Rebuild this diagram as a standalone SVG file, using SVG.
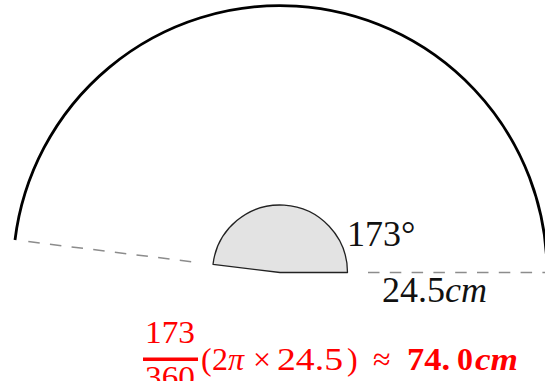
<svg xmlns="http://www.w3.org/2000/svg" width="545" height="381" viewBox="0 0 545 381">
<style>
.dash{fill:none;stroke:#8c8c8c;stroke-width:1.5;stroke-dasharray:11.5 10.3}
.lbl{font-family:"Liberation Serif","DejaVu Serif",serif;font-size:36px;fill:#111}
.red{font-family:"Liberation Serif","DejaVu Serif",serif;font-size:32px;fill:#ff0000}
</style>
<rect width="545" height="381" fill="#ffffff"/>
<g id="connectors">
<path class="dash" d="M28.3,241.6 L194,262"/>
<path class="dash" d="M368,272.5 L545,272.5"/>
</g>
<g id="big-arc">
<path d="M15,240 A267,267 0 0 1 547,272.5" fill="none" stroke="#000" stroke-width="2.8"/>
</g>
<g id="sector">
<path d="M280,272.5 L213,264.3 A67.5,67.5 0 0 1 347.5,272.5 Z" fill="#e3e3e3" stroke="#222" stroke-width="1.3" stroke-linejoin="round"/>
</g>
<g id="angle-label">
<text class="lbl" x="347" y="246">173°</text>
</g>
<g id="radius-label">
<text class="lbl" x="382" y="302">24.5<tspan font-style="italic">cm</tspan></text>
</g>
<g id="formula">
<text class="red" x="145" y="343" textLength="50" lengthAdjust="spacingAndGlyphs">173</text>
<rect x="143" y="357.5" width="55" height="3.5" fill="#ff0000"/>
<text class="red" x="145" y="388" textLength="50" lengthAdjust="spacingAndGlyphs">360</text>
<text class="red" x="201" y="370" font-size="34">(</text>
<text class="red" x="212" y="370">2<tspan font-style="italic">π</tspan></text>
<text class="red" x="253" y="370" font-size="36">×</text>
<text class="red" x="277" y="370" textLength="66" lengthAdjust="spacingAndGlyphs">24.5</text>
<text class="red" x="347" y="370" font-size="34">)</text>
<text class="red" x="373" y="370" font-size="36">≈</text>
<text class="red" x="407" y="370" font-weight="bold" textLength="43" lengthAdjust="spacingAndGlyphs">74.</text>
<text class="red" x="457" y="370" font-weight="bold">0</text>
<text class="red" x="475" y="370" font-weight="bold" font-style="italic" textLength="43" lengthAdjust="spacingAndGlyphs">cm</text>
</g>
</svg>
